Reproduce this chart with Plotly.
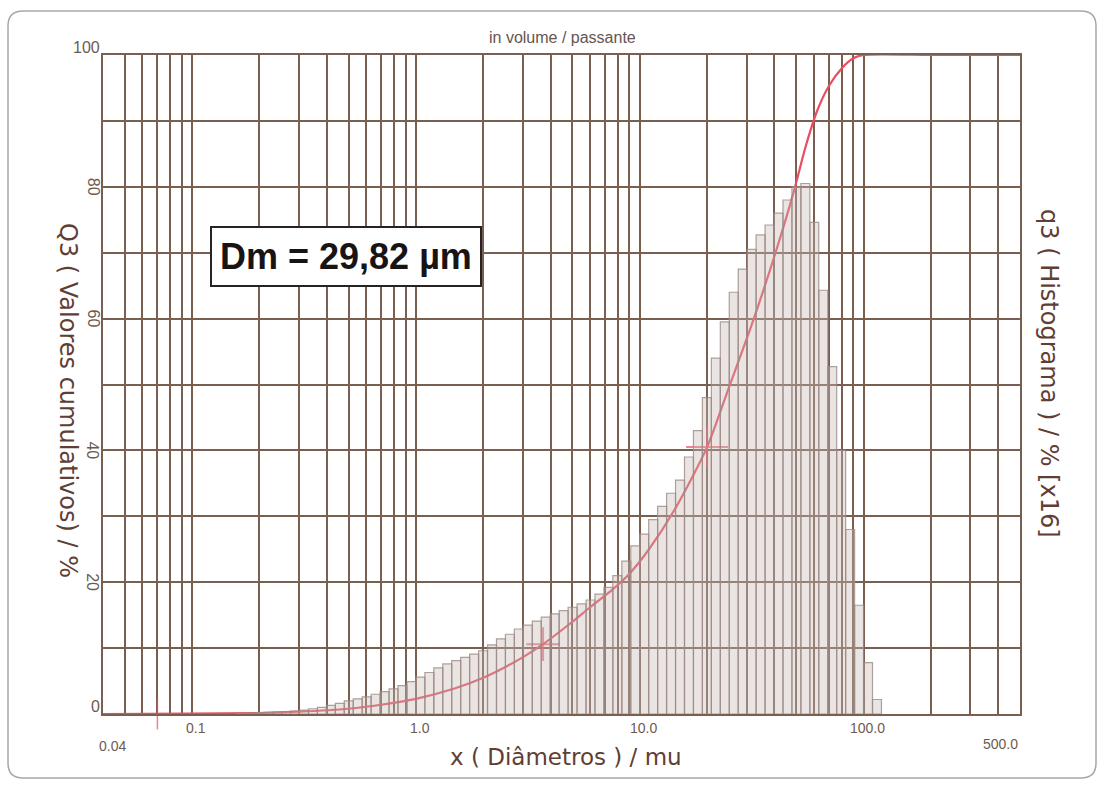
import numpy as np
import plotly.graph_objects as go

# ---------------- data ----------------
# histogram classes: log-spaced class edges (start and step in log10 µm)
hist_log_start = -0.80
hist_log_step = 0.04
# q3 histogram heights, % [x16]
q3_hist = [0.1, 0.15, 0.2, 0.25, 0.3, 0.35, 0.45, 0.6, 0.8, 1.0,
           1.3, 1.6, 2.0, 2.3, 2.6, 3.0, 3.4, 3.8, 4.3, 4.9,
           5.6, 6.3, 7.0, 7.6, 8.1, 8.6, 9.1, 9.6, 10.5, 11.4,
           12.1, 12.9, 13.5, 14.1, 14.7, 15.2, 15.7, 16.2, 16.7, 17.3,
           18.2, 19.2, 21.0, 23.2, 25.5, 27.3, 29.5, 31.5, 33.5, 35.5,
           39.0, 43.0, 48.0, 54.0, 59.5, 64.0, 67.5, 70.5, 72.7, 74.2,
           76.0, 78.0, 80.0, 80.5, 74.6, 64.3, 52.7, 40.0, 28.0, 16.5,
           7.8, 2.2]

# Q3 cumulative passing curve
Q3_x = [0.04, 0.1, 0.2, 0.3, 0.5, 0.7, 1.0, 1.5, 2.0, 2.5, 3.0, 3.7, 5.0, 6.0,
        7.5, 9.0, 11.0, 14.6, 20.0, 25.0, 31.6, 40.0, 49.0, 55.0, 62.0, 70.0,
        80.0, 90.0, 100.0, 200.0, 500.0]
Q3_y = [0.0, 0.05, 0.15, 0.35, 0.8, 1.4, 2.3, 3.9, 5.5, 7.1, 8.6, 10.6, 14.0, 16.2,
        18.8, 21.3, 25.0, 31.5, 40.5, 49.5, 59.0, 69.5, 79.5, 86.0, 91.5, 95.3,
        98.0, 99.5, 100.0, 100.0, 100.0]

# marked points on the curve
mark_x = [3.7, 20.0]
mark_y = [10.6, 40.5]
mark_size = [24, 30]

# limit ticks (x0 at bottom, x100 at top)
lim_x = [0.07, 90.0]
lim_y = [0.0, 100.8]
lim_size = [22, 15]

x_grid = [0.04, 0.05, 0.06, 0.07, 0.08, 0.09,
          0.1, 0.2, 0.3, 0.4, 0.5, 0.6, 0.7, 0.8, 0.9,
          1, 2, 3, 4, 5, 6, 7, 8, 9,
          10, 20, 30, 40, 50, 60, 70, 80, 90,
          100, 200, 300, 400, 500]
x_labels_row1 = [(0.1, "0.1"), (1.0, "1.0"), (10.0, "10.0"), (100.0, "100.0")]
x_label_first = (0.04, "0.04")
x_label_last = (500.0, "500.0")
y_labels = [0, 20, 40, 60, 80, 100]

dm_text = "Dm = 29,82 µm"

# ---------------- figure ----------------
W, H = 1106, 786
ML, MR, MT, MB = 103, 86, 55, 72
PW, PH = W - ML - MR, H - MT - MB

GRID = "rgb(122,94,80)"
RED = "rgb(232,78,98)"
TXT = "rgb(110,90,80)"
TITLE = "rgb(96,62,52)"


def px(xp):
    return (xp - ML) / PW


def py(yp):
    return (MT + PH - yp) / PH


edges = 10 ** (hist_log_start + hist_log_step * np.arange(len(q3_hist) + 1))
bx, by = [], []
for i, h in enumerate(q3_hist):
    l, r = edges[i], edges[i + 1]
    bx += [l, l, r, r, l, None]
    by += [0, h, h, 0, 0, None]

fig = go.Figure()
fig.add_trace(go.Scatter(x=bx, y=by, mode="lines", fill="toself",
                         fillcolor="rgba(200,185,180,0.38)",
                         line=dict(color="rgba(155,138,132,0.8)", width=1.2),
                         yaxis="y2", hoverinfo="skip", showlegend=False))
fig.add_trace(go.Scatter(x=Q3_x, y=Q3_y, mode="lines",
                         line=dict(color=RED, width=2.2, shape="spline", smoothing=0.7),
                         showlegend=False))
fig.add_trace(go.Scatter(x=mark_x, y=mark_y, mode="markers",
                         marker=dict(symbol="cross-thin", size=mark_size,
                                     line=dict(color=RED, width=2)),
                         showlegend=False))
fig.add_trace(go.Scatter(x=lim_x, y=lim_y, mode="markers", cliponaxis=False,
                         marker=dict(symbol="line-ns", size=lim_size,
                                     line=dict(color=RED, width=1.5)),
                         showlegend=False))

TICKFONT = dict(family="Liberation Sans", size=14, color=TXT)
ann = []
for v, t in x_labels_row1:
    ann.append(dict(x=np.log10(v), y=0, xref="x", yref="paper", text=t,
                    showarrow=False, xanchor="center", yanchor="top", yshift=-4,
                    xshift=4, font=TICKFONT))
ann.append(dict(x=np.log10(x_label_first[0]), y=0, xref="x", yref="paper",
                text=x_label_first[1], showarrow=False, xanchor="left",
                yanchor="top", yshift=-22, xshift=-6, font=TICKFONT))
ann.append(dict(x=np.log10(x_label_last[0]), y=0, xref="x", yref="paper",
                text=x_label_last[1], showarrow=False, xanchor="right",
                yanchor="top", yshift=-20, font=TICKFONT))
for v in y_labels:
    if v in (0, 100):
        ann.append(dict(x=0, y=v, xref="paper", yref="y", text=str(v),
                        showarrow=False, xanchor="right", yanchor="middle",
                        xshift=-1, yshift=8,
                        font=dict(family="Liberation Sans", size=16, color=TXT)))
    else:
        ann.append(dict(x=0, y=v, xref="paper", yref="y", text=str(v),
                        showarrow=False, xanchor="center", yanchor="middle",
                        xshift=-10, textangle=90,
                        font=dict(family="Liberation Sans", size=16, color=TXT)))

SIDEFONT = dict(family="DejaVu Sans", size=24, color=TITLE)
ann.append(dict(x=px(68), y=py(400), xref="paper", yref="paper",
                xanchor="center", yanchor="middle",
                text="Q3 ( Valores cumulativos) / %", textangle=90, showarrow=False,
                font=SIDEFONT))
ann.append(dict(x=px(1049), y=py(373), xref="paper", yref="paper",
                xanchor="center", yanchor="middle",
                text="q3 ( Histograma ) / % [x16]", textangle=90, showarrow=False,
                font=SIDEFONT))
ann.append(dict(x=px(566), y=py(757), xref="paper", yref="paper",
                xanchor="center", yanchor="middle",
                text="x ( Diâmetros ) / mu", showarrow=False,
                font=dict(family="DejaVu Sans", size=23, color=TITLE)))
ann.append(dict(x=px(562), y=py(37), xref="paper", yref="paper",
                xanchor="center", yanchor="middle",
                text="in volume / passante", showarrow=False,
                font=dict(family="Liberation Sans", size=16, color="rgb(100,85,80)")))
ann.append(dict(x=px(346), y=py(256), xref="paper", yref="paper",
                xanchor="center", yanchor="middle",
                text="<b>" + dm_text + "</b>", showarrow=False,
                bgcolor="white", bordercolor="rgb(40,35,35)", borderwidth=2, borderpad=8,
                font=dict(family="Liberation Sans", size=36, color="rgb(25,20,20)")))

# rounded outer border
x0, x1 = px(8), px(1096)
y1, y0 = py(11), py(778)
rx, ry = 15 / PW, 15 / PH
path = (f"M {x0+rx},{y1} L {x1-rx},{y1} Q {x1},{y1} {x1},{y1-ry} "
        f"L {x1},{y0+ry} Q {x1},{y0} {x1-rx},{y0} L {x0+rx},{y0} "
        f"Q {x0},{y0} {x0},{y0+ry} L {x0},{y1-ry} Q {x0},{y1} {x0+rx},{y1} Z")

fig.update_layout(
    width=W, height=H,
    margin=dict(l=ML, r=MR, t=MT, b=MB, pad=0),
    paper_bgcolor="white", plot_bgcolor="white",
    showlegend=False,
    annotations=ann,
    shapes=[dict(type="path", path=path, xref="paper", yref="paper",
                 line=dict(color="rgb(175,165,160)", width=1.5), layer="below")],
    xaxis=dict(type="log", range=[np.log10(0.04), np.log10(500)],
               tickvals=x_grid, showticklabels=False, ticks="",
               showgrid=True, gridcolor=GRID, gridwidth=1.8,
               showline=True, linecolor=GRID, linewidth=1.8, mirror=True,
               zeroline=False),
    yaxis=dict(range=[0, 100], tickvals=list(range(0, 101, 10)),
               showticklabels=False, ticks="",
               showgrid=True, gridcolor=GRID, gridwidth=1.8,
               showline=True, linecolor=GRID, linewidth=1.8, mirror=True,
               zeroline=False),
    yaxis2=dict(range=[0, 100], overlaying="y", side="right",
                showticklabels=False, showgrid=False, zeroline=False, ticks=""),
)

fig.write_html("out.html")
